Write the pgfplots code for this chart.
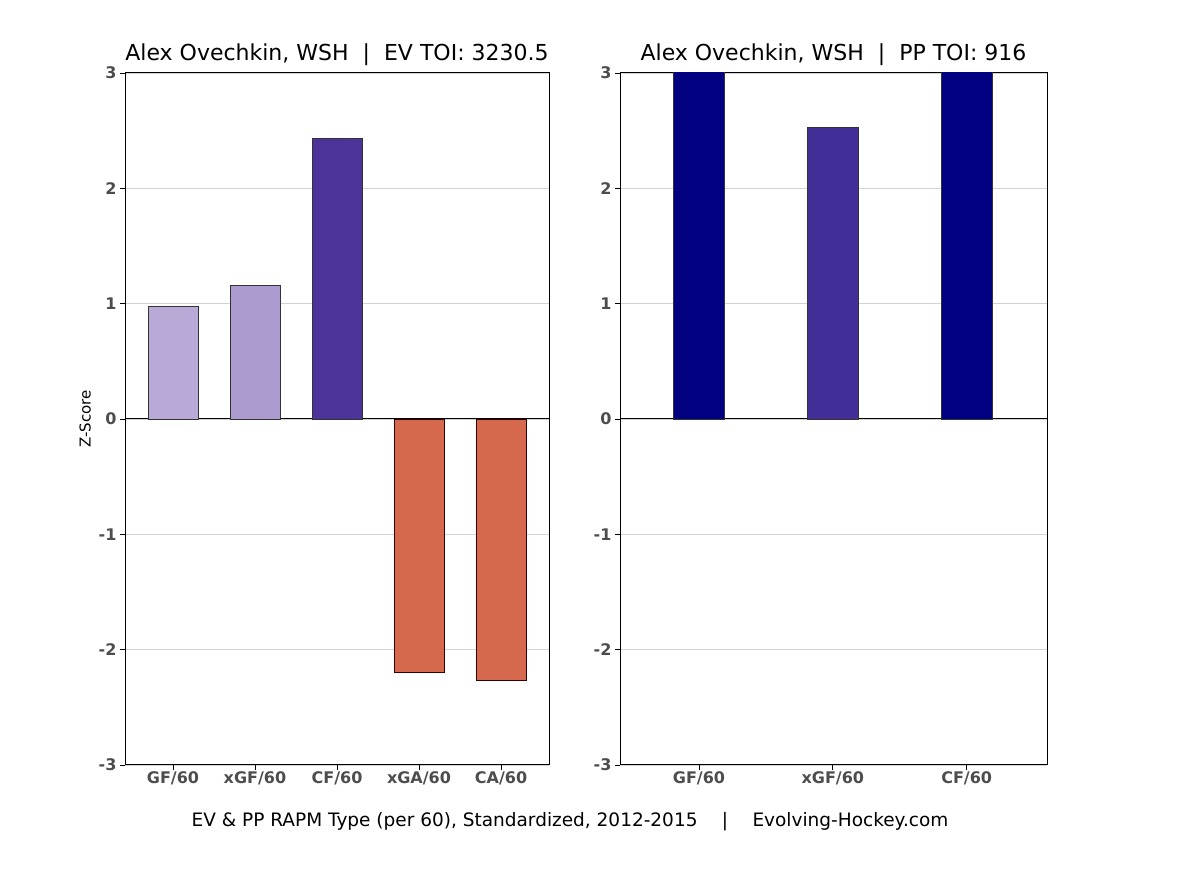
\documentclass[border=0pt]{standalone}
\usepackage{pgfplots}
\pgfplotsset{compat=1.18}
\usepackage{fontspec}
\setmainfont{DejaVu Sans}

\definecolor{gfev}{HTML}{B8A9D6}
\definecolor{xgfev}{HTML}{AB9BD0}
\definecolor{cfev}{HTML}{4B3399}
\definecolor{against}{HTML}{D6694D}
\definecolor{navyblue}{HTML}{000080}
\definecolor{xgfpp}{HTML}{422E96}
\definecolor{ticktext}{HTML}{4D4D4D}
\definecolor{gridgray}{HTML}{D3D3D3}

\begin{document}
\begin{tikzpicture}
	% page frame, 1 px = 1 pt
	\path (0pt,0pt) rectangle (1200pt,875pt);

	\pgfplotsset{
		rapm/.style={
			scale only axis,
			ymin=-3, ymax=3,
			ytick={-3,-2,-1,0,1,2,3},
			ymajorgrids,
			grid style={gridgray, line width=0.8pt},
			extra y ticks={0},
			extra y tick labels={},
			extra y tick style={grid style={black, line width=1pt}, major tick length=0pt},
			axis line style={black, line width=1pt},
			tick style={black, line width=0.8pt},
			tick align=outside,
			major tick length=5pt,
			xtick pos=bottom, ytick pos=left,
			/pgf/number format/assume math mode=true,
			ticklabel style={font=\fontsize{16}{19}\selectfont\bfseries, text=ticktext},
			xticklabel style={yshift=2pt},
			title style={font=\fontsize{22}{26}\selectfont, yshift=-2pt},
			ybar, bar shift=0pt,
			clip=true,
		},
	}

	% Even strength
	\begin{axis}[
		rapm,
		at={(125pt,110pt)}, anchor=south west,
		width=424pt, height=692pt,
		xmin=-0.585, xmax=4.585,
		xtick={0,1,2,3,4},
		xticklabels={GF/60, xGF/60, CF/60, xGA/60, CA/60},
		bar width=0.61,
		title={Alex Ovechkin, WSH \ | \ EV TOI: 3230.5},
		ylabel={Z-Score},
		ylabel style={font=\fontsize{15}{18}\selectfont, yshift=-4pt},
		]
		\addplot[fill=gfev, draw=black!80, line width=0.8pt] coordinates {(0,0.98)};
		\addplot[fill=xgfev, draw=black!80, line width=0.8pt] coordinates {(1,1.16)};
		\addplot[fill=cfev, draw=black!80, line width=0.8pt] coordinates {(2,2.43)};
		\addplot[fill=against, draw=black!80!red, line width=0.8pt] coordinates {(3,-2.20)};
		\addplot[fill=against, draw=black!80!red, line width=0.8pt] coordinates {(4,-2.27)};
	\end{axis}

	% Power play
	\begin{axis}[
		rapm,
		at={(620pt,110pt)}, anchor=south west,
		width=427pt, height=692pt,
		xmin=-0.59, xmax=2.6,
		xtick={0,1,2},
		xticklabels={GF/60, xGF/60, CF/60},
		bar width=0.38,
		title={Alex Ovechkin, WSH \ | \ PP TOI: 916},
		]
		\addplot[fill=navyblue, draw=black!80, line width=0.8pt] coordinates {(0,3.5)};
		\addplot[fill=xgfpp, draw=black!80, line width=0.8pt] coordinates {(1,2.53)};
		\addplot[fill=navyblue, draw=black!80, line width=0.8pt] coordinates {(2,3.5)};
	\end{axis}

	\node[font=\fontsize{18.5}{22}\selectfont] at (570pt,53pt)
		{EV \& PP RAPM Type (per 60), Standardized, 2012-2015 \quad | \quad Evolving-Hockey.com};
\end{tikzpicture}
\end{document}
